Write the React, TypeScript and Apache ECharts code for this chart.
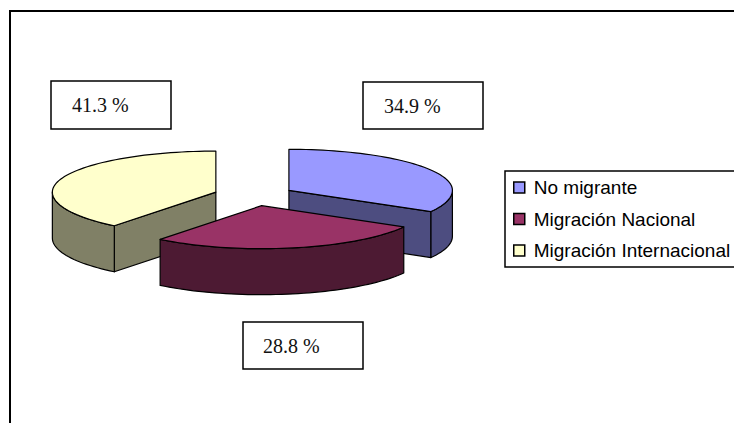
import React, { useEffect, useRef } from "react";
import * as echarts from "echarts";

const categories = ["No migrante", "Migración Nacional", "Migración Internacional"];
const values = [34.9, 28.8, 41.3];
const labelTexts = ["34.9 %", "28.8 %", "41.3 %"];
const topColors = ["#9999FF", "#993366", "#FFFFCC"];
const sideColors = ["#4D4D80", "#4D1A33", "#808066"];

const W = 734, H = 423;
const CX = 254, CY = 195.5, RX = 163.5, RY_BACK = 41, RY_FRONT = 43, DEPTH = 46, EXPLODE = 0.247;
const total = values.reduce((a, b) => a + b, 0);

// angle measured clockwise from 12 o'clock
const ranges = values.map((v, i) => {
  const before = values.slice(0, i).reduce((a, b) => a + b, 0);
  return [(before / total) * 2 * Math.PI, ((before + v) / total) * 2 * Math.PI];
});

const ELLIPSE_STEP = Math.PI / 90;

function rimPoint(a: number, ox: number, oy: number) {
  const c = Math.cos(a);
  return [ox + RX * Math.sin(a), oy - (c > 0 ? RY_BACK : RY_FRONT) * c];
}

function slicePoints(a0: number, a1: number, ox: number, oy: number) {
  const pts: number[][] = [];
  const n = Math.max(2, Math.ceil((a1 - a0) / ELLIPSE_STEP));
  for (let k = 0; k <= n; k++) {
    pts.push(rimPoint(a0 + ((a1 - a0) * k) / n, ox, oy));
  }
  return pts;
}

const stroke = { stroke: "#000", lineWidth: 1.2, lineJoin: "round" as const };

function renderSlice(index: number) {
  const [a0, a1] = ranges[index];
  const mid = (a0 + a1) / 2;
  const ox = CX + EXPLODE * RX * Math.sin(mid);
  const oy = CY - EXPLODE * ((RY_BACK + RY_FRONT) / 2) * Math.cos(mid);
  const children: any[] = [];
  const wall = (points: number[][]) =>
    children.push({
      type: "polygon",
      shape: { points },
      style: { fill: sideColors[index], ...stroke },
    });
  const apex = [ox, oy];
  // radial faces that look toward the viewer
  [a0, a1].forEach((a) => {
    const p = rimPoint(a, ox, oy);
    const faces = (index === 0 && a === a1) || (index === 2 && a === a0);
    if (faces) {
      wall([apex, p, [p[0], p[1] + DEPTH], [apex[0], apex[1] + DEPTH]]);
    }
  });
  // outer rim: only the part in the front half of the ellipse
  const rimStart = Math.max(a0, Math.PI / 2);
  const rimEnd = Math.min(a1, (3 * Math.PI) / 2);
  if (rimEnd > rimStart) {
    const rim = slicePoints(rimStart, rimEnd, ox, oy);
    const lower = rim.map((p) => [p[0], p[1] + DEPTH]).reverse();
    wall(rim.concat(lower));
  }
  const top = [apex].concat(slicePoints(a0, a1, ox, oy));
  children.push({
    type: "polygon",
    shape: { points: top },
    style: { fill: topColors[index], ...stroke },
  });
  return { type: "group", children };
}

// maroon slice sits in front of the others
const drawOrder = [0, 2, 1];

const labelBoxes = [
  { x: 363, y: 82, w: 120, h: 47, tx: 384 },
  { x: 243, y: 322, w: 120, h: 47, tx: 263 },
  { x: 51, y: 81, w: 120, h: 48, tx: 72 },
];

export default function App() {
  const ref = useRef<HTMLDivElement>(null);
  useEffect(() => {
    const chart = echarts.init(ref.current!, undefined, { renderer: "svg" });
    chart.setOption({
      animation: false,
      backgroundColor: "#fff",
      legend: {
        orient: "vertical",
        left: 505,
        top: 171,
        padding: [7, 10, 7, 8],
        itemGap: 12.5,
        itemWidth: 11,
        itemHeight: 11,
        backgroundColor: "#fff",
        borderColor: "#000",
        borderWidth: 1.5,
        borderRadius: 0,
        textStyle: {
          fontFamily: "Liberation Sans",
          fontSize: 19,
          color: "#000",
          padding: [0, 0, 0, 4],
          lineHeight: 19,
        },
        data: categories.map((name, i) => ({
          name,
          icon: "rect",
          itemStyle: { color: topColors[i], borderColor: "#000", borderWidth: 1.5 },
        })),
      },
      series: drawOrder.map((i) => ({
        type: "custom",
        name: categories[i],
        coordinateSystem: "none",
        silent: true,
        z: drawOrder.indexOf(i) + 2,
        itemStyle: { color: topColors[i] },
        data: [values[i]],
        renderItem: () => renderSlice(i),
      })),
      graphic: [
        {
          type: "rect",
          silent: true,
          z: 0,
          shape: { x: 10, y: 11, width: W + 20, height: H + 20 },
          style: { fill: "#fff", stroke: "#000", lineWidth: 2 },
        },
        ...labelBoxes.flatMap((b, i) => [
          {
            type: "rect",
            silent: true,
            z: 20,
            shape: { x: b.x, y: b.y, width: b.w, height: b.h },
            style: { fill: "#fff", stroke: "#000", lineWidth: 1.5 },
          },
          {
            type: "text",
            silent: true,
            z: 21,
            x: b.tx,
            y: b.y + b.h / 2,
            style: {
              text: labelTexts[i],
              fontFamily: "Liberation Serif",
              fontSize: 20,
              fill: "#111",
              verticalAlign: "middle",
            },
          },
        ]),
      ],
    });
    return () => chart.dispose();
  }, []);
  return (
    <div
      ref={ref}
      style={{ position: "fixed", left: 0, top: 0, width: W, height: H }}
    />
  );
}
